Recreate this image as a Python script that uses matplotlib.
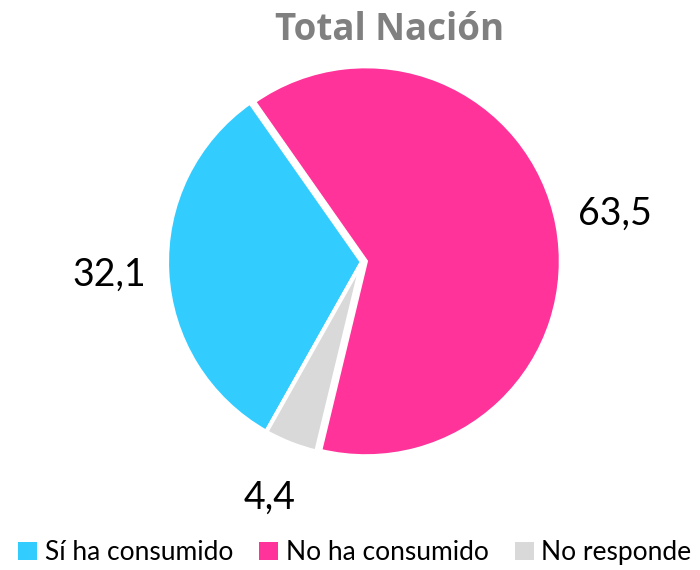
import matplotlib
matplotlib.use("Agg")
import matplotlib.pyplot as plt
from matplotlib.patches import Patch

categorias = ["Sí ha consumido", "No ha consumido", "No responde"]
valores = [32.1, 63.5, 4.4]
colores = ["#33CCFF", "#FF3399", "#D9D9D9"]
titulo = "Total Nación"

fig = plt.figure(figsize=(7, 5.7), dpi=100)

# pie centre ~ (362, 262) px, radius ~195 px
cx, cy, r = 362, 262, 195
ax = fig.add_axes([(cx - r) / 700, (570 - cy - r) / 570, 2 * r / 700, 2 * r / 570])

wedges, _, autotexts = ax.pie(
    valores, colors=colores, startangle=240.6, counterclock=False,
    explode=[0.0, 0.02, 0.0],
    autopct=lambda p: f"{p:.1f}".replace(".", ","), pctdistance=1.3,
    wedgeprops=dict(edgecolor="white", linewidth=3),
    textprops=dict(family="Lato", fontsize=27, color="black"),
)
ax.set_xlim(-1, 1)
ax.set_ylim(-1, 1)
ax.set_aspect("equal")
ax.axis("off")

fig.text(0.557, 0.948, titulo, ha="center", va="center", family="Open Sans",
         fontweight="bold", fontsize=26.5, color="#808080")

handles = [Patch(facecolor=c, edgecolor="none") for c in colores]
fig.legend(handles, categorias, loc="center", bbox_to_anchor=(0.507, 0.03),
           ncol=3, frameon=False, prop=dict(family="Lato", size=19),
           handlelength=0.7, handleheight=0.7, handletextpad=0.3, columnspacing=1.0)

fig.savefig("out.png", dpi=100)
